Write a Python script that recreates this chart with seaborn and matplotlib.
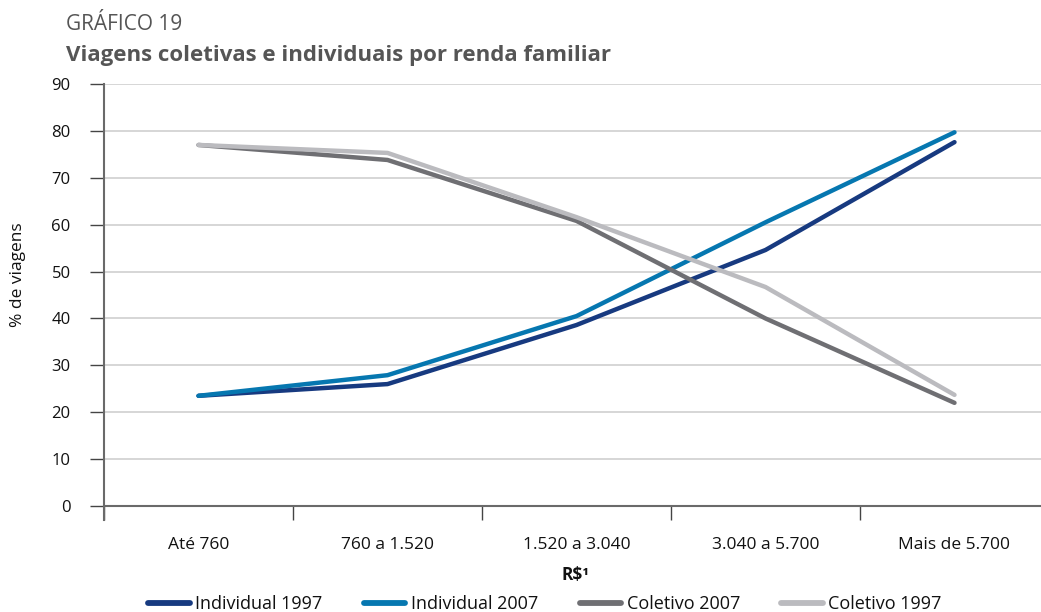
import pandas as pd
import matplotlib
matplotlib.use('Agg')
import matplotlib.pyplot as plt
from matplotlib.ticker import FixedLocator, NullFormatter
import seaborn as sns

# data
faixas = ['Até 760', '760 a 1.520', '1.520 a 3.040', '3.040 a 5.700', 'Mais de 5.700']
individual_1997 = [23.5, 26.0, 38.6, 54.6, 77.6]
individual_2007 = [23.5, 27.9, 40.5, 60.5, 79.7]
coletivo_2007 = [77.0, 73.8, 60.8, 40.0, 22.0]
coletivo_1997 = [77.0, 75.3, 61.6, 46.7, 23.7]

series = {
    'Individual 1997': individual_1997,
    'Individual 2007': individual_2007,
    'Coletivo 2007': coletivo_2007,
    'Coletivo 1997': coletivo_1997,
}
cores = ['#173a80', '#0677b0', '#6f6f73', '#bbbbbf']

rows = []
for nome, vals in series.items():
    for i, v in enumerate(vals):
        rows.append({'faixa': faixas[i], 'pos': i, 'serie': nome, 'valor': v})
df = pd.DataFrame(rows)

sns.set_style('white')
plt.rcParams['font.family'] = ['Open Sans', 'DejaVu Sans']
plt.rcParams['text.color'] = '#111111'

fig = plt.figure(figsize=(10.41, 6.12), dpi=100)
W, H = 1041, 612
# axes placed in pixels: left 104, right at image edge, y=0 at 506, y=90 at 84
px_per = (506 - 84) / 90
ymin = -14 / px_per
bottom_px = 520
ax = fig.add_axes([104 / W, 1 - bottom_px / H, (W - 104) / W, (bottom_px - 84) / H])

sns.lineplot(data=df, x='pos', y='valor', hue='serie', hue_order=list(series.keys()),
             palette=cores, linewidth=3.2, ax=ax, legend=True, solid_capstyle='round')

cat_w = 189
ax.set_xlim(-0.5, -0.5 + (W - 104) / cat_w)
ax.set_ylim(ymin, 90)

ax.set_yticks(range(0, 91, 10))
ax.yaxis.grid(True, color='#d0d0d0', linewidth=1.2)
ax.xaxis.grid(False)
ax.axhline(0, color='#6a6a6a', linewidth=1.5, zorder=1)

for s in ['top', 'right', 'bottom']:
    ax.spines[s].set_visible(False)
ax.spines['left'].set_color('#6a6a6a')
ax.spines['left'].set_linewidth(1.5)

ax.tick_params(axis='y', which='major', length=10, width=1, color='#444444',
               labelsize=12, labelcolor='#111111', pad=14, direction='out', left=True)

ax.set_xticks(range(len(faixas)))
ax.set_xticklabels(faixas)
ax.tick_params(axis='x', which='major', length=0, labelsize=12.5, labelcolor='#111111', pad=12)
ax.xaxis.set_minor_locator(FixedLocator([i + 0.5 for i in range(-1, len(faixas))]))
ax.xaxis.set_minor_formatter(NullFormatter())
ax.tick_params(axis='x', which='minor', length=10, width=1, color='#444444',
               direction='in', bottom=True)

ax.set_xlabel('')
ax.set_ylabel('')
fig.text(575 / W, 1 - 575 / H, 'R$¹', fontsize=12.5, fontweight='bold', ha='center', va='center')
fig.text(18 / W, 1 - 275 / H, '% de viagens', fontsize=12.5, rotation=90, ha='center', va='center')

handles, labels = ax.get_legend_handles_labels()
ax.get_legend().remove()
for h in handles:
    h.set_linewidth(4.2)
    h.set_solid_capstyle('round')
fig.legend(handles, labels, ncol=4, frameon=False, fontsize=13,
           loc='center', bbox_to_anchor=(545 / W, 1 - 604 / H),
           handlelength=2.3, handletextpad=0.3, columnspacing=2.3,
           borderpad=0, borderaxespad=0)

fig.text(66 / W, 1 - 25 / H, 'GRÁFICO 19', fontsize=15, color='#555555', va='center')
fig.text(66 / W, 1 - 55 / H, 'Viagens coletivas e individuais por renda familiar',
         fontsize=16, fontweight='bold', color='#555555', va='center')

fig.savefig('out.png', dpi=100)
